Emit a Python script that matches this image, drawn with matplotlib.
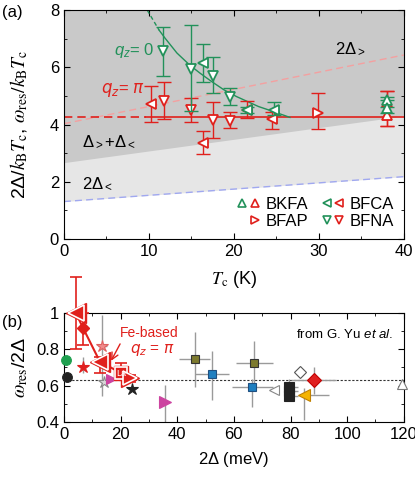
import numpy as np
import matplotlib.pyplot as plt
from matplotlib.lines import Line2D
from matplotlib.legend_handler import HandlerTuple

plt.rcParams['font.family'] = ['Liberation Sans', 'DejaVu Sans']
plt.rcParams['mathtext.fontset'] = 'custom'
plt.rcParams['mathtext.rm'] = 'Liberation Sans'
plt.rcParams['mathtext.it'] = 'Liberation Sans:italic'
plt.rcParams['mathtext.bf'] = 'Liberation Sans:bold'
plt.rcParams['xtick.direction'] = 'in'
plt.rcParams['ytick.direction'] = 'in'
plt.rcParams['font.size'] = 12

green = '#22915a'
red = '#e0201c'
gray = '#9a9a9a'

# ---- panel (a): guide lines vs Tc ----
tc_ends = [0, 40]
gap_big = [4.03, 6.43]      # 2Delta_>
gap_small = [1.31, 2.18]    # 2Delta_<
gap_mix = [2.67, 4.30]      # Delta_> + Delta_<
res_tc = [0, 9.7, 40]
res_val = [4.25, 4.25, 4.25]

# qz=0 guide curve
curve_tc = [9.8, 11.2, 11.9, 13.3, 14.8, 16.0, 17.4, 18.8, 20.3, 22.9, 24.7, 26.6]
curve_val = [8.0, 7.3, 7.02, 6.5, 6.08, 5.8, 5.5, 5.22, 4.98, 4.63, 4.45, 4.25]

# data points: Tc, value, lower end, upper end of error bar
gd_tc = [11.7, 14.9, 17.5, 19.5]
gd_val = [6.58, 5.94, 5.71, 4.95]
gd_lo = [5.70, 4.47, 5.09, 4.69]
gd_hi = [7.40, 7.48, 6.35, 5.27]

gl_tc = [16.4, 21.6, 24.7]
gl_val = [6.14, 4.51, 4.51]
gl_lo = [5.47, 4.40, 4.34]
gl_hi = [6.82, 4.62, 4.80]

gu_tc = [38.0, 38.0]
gu_val = [4.86, 4.57]
gu_lo = [4.62, 4.40]
gu_hi = [4.98, 4.85]

rd_tc = [11.8, 14.9, 17.6, 19.6]
rd_val = [4.84, 4.51, 4.16, 4.14]
rd_lo = [4.19, 4.10, 3.52, 3.87]
rd_hi = [5.47, 4.92, 4.80, 4.45]

rl_tc = [10.3, 16.4, 21.6, 24.5]
rl_val = [4.72, 3.37, 4.51, 4.18]
rl_lo = [4.10, 2.96, 4.22, 3.84]
rl_hi = [5.35, 3.79, 4.84, 4.45]

rr_tc = [29.9]
rr_val = [4.42]
rr_lo = [3.84]
rr_hi = [5.12]

ru_tc = [38.0, 38.0]
ru_val = [4.80, 4.34]
ru_lo = [3.95, 3.95]
ru_hi = [5.19, 5.19]

# ---- panel (b): omega_res / 2Delta vs 2Delta ----
fe_x = [4.2, 6.8, 12.7, 20.3, 23.5]
fe_y = [1.0, 0.916, 0.732, 0.668, 0.64]
fe_mark = ['<', 'D', '<', 's', '>']
fe_size = [12, 6, 12, 8, 10.5]
fe_lo = [0.80, 0.824, 0.67, 0.64, 0.62]
fe_hi = [1.20, 1.0, 0.76, 0.723, 0.66]

# other compounds (from G. Yu et al.)
yu_x = [0.7, 1.2, 6.6, 13.6, 14.1, 16.5, 24.2, 35.6, 46.2, 52.4, 67.1, 66.5,
        74.1, 79.5, 79.5, 79.5, 83.3, 88.2, 84.7, 119.5]
yu_y = [0.741, 0.649, 0.70, 0.82, 0.622, 0.635, 0.582, 0.512, 0.745, 0.662, 0.723, 0.594,
        0.576, 0.595, 0.570, 0.545, 0.674, 0.631, 0.549, 0.609]
yu_xlo = [0, 0, 1.0, 1.5, 0, 0, 0, 0, 5.5, 6.0, 6.5, 7.0, 0, 0, 0, 0, 0, 8.0, 0.5, 0]
yu_xhi = [0, 0, 1.0, 1.5, 0, 0, 0, 0, 5.3, 6.0, 6.8, 7.3, 0, 3.0, 3.0, 3.0, 0, 8.0, 9.0, 0]
yu_ylo = [0, 0, 0.03, 0.28, 0, 0, 0, 0.12, 0.15, 0.14, 0.12, 0.11, 0, 0.05, 0, 0, 0, 0.08, 0.14, 0]
yu_yhi = [0, 0, 0.06, 0.17, 0, 0, 0, 0.09, 0.15, 0.13, 0.12, 0.04, 0, 0.04, 0, 0, 0, 0.07, 0.04, 0]
yu_mark = ['o', 'o', '*', '*', '*', '>', '*', '>', 's', 's', 's', 's',
           '<', 's', 's', 's', 'D', 'D', '<', '^']
yu_fill = ['#1fa050', '#222222', '#e02020', '#f08a8a', '#d8d8d8', '#cc44a0', '#222222', '#cc44a0',
           '#7d7a2e', '#1f7fc0', '#7d7a2e', '#1f7fc0', 'white', '#222222', '#222222', '#222222',
           'white', '#e02020', '#f5b400', 'white']
yu_edge = ['#1fa050', '#222222', '#e02020', '#e06060', '#888888', '#cc44a0', '#222222', '#cc44a0',
           '#333333', '#1f4f80', '#333333', '#1f4f80', '#888888', '#222222', '#222222', '#222222',
           '#555555', '#c00000', '#c08000', '#777777']
yu_size = [7, 7, 9, 9, 9, 7, 9, 8, 6, 6, 6, 6, 7, 7, 7, 7, 6, 7, 8, 7]
universal = 0.63

fig = plt.figure(figsize=(4.15, 4.8), dpi=100)
ax = fig.add_axes([0.154, 0.502, 0.819, 0.477])
bx = fig.add_axes([0.154, 0.121, 0.819, 0.227])

# shading
top = [8, 8]
ax.fill_between(tc_ends, gap_small, top, color='#e6e6e6', lw=0, zorder=0)
ax.fill_between(tc_ends, gap_mix, top, color='#c9c9c9', lw=0, zorder=0)
ax.plot(tc_ends, gap_big, ls=(0, (5, 3)), color='#f4a0a0', lw=1)
ax.plot(tc_ends, gap_small, ls=(0, (5, 3)), color='#a0a8f0', lw=1)

ax.plot(res_tc[:2], res_val[:2], ls=(0, (5, 3)), color=red, lw=1.2)
ax.plot(res_tc[1:], res_val[1:], color=red, lw=1.2)
ax.plot(curve_tc[:2], curve_val[:2], ls=(0, (3, 2)), color=green, lw=1)
ax.plot(curve_tc[1:], curve_val[1:], color=green, lw=1)


def points(a, tc, val, lo, hi, m, c):
    err = [np.array(val) - np.array(lo), np.array(hi) - np.array(val)]
    a.errorbar(tc, val, yerr=err, fmt='none', ecolor=c, elinewidth=1, capsize=5, capthick=1)
    a.plot(tc, val, m, ms=7, mfc='white', mec=c, mew=1.3, ls='none')


points(ax, rd_tc, rd_val, rd_lo, rd_hi, 'v', red)
points(ax, rl_tc, rl_val, rl_lo, rl_hi, '<', red)
points(ax, rr_tc, rr_val, rr_lo, rr_hi, '>', red)
points(ax, ru_tc, ru_val, ru_lo, ru_hi, '^', red)
points(ax, gd_tc, gd_val, gd_lo, gd_hi, 'v', green)
points(ax, gl_tc, gl_val, gl_lo, gl_hi, '<', green)
points(ax, gu_tc, gu_val, gu_lo, gu_hi, '^', green)

ax.text(31.9, 6.67, '2Δ$_{>}$', fontsize=12, va='center')
ax.text(2.1, 3.4, 'Δ$_{>}$+Δ$_{<}$', fontsize=12, va='center')
ax.text(2.1, 1.95, '2Δ$_{<}$', fontsize=12, va='center')
ax.text(5.9, 6.6, '$q_z$= 0', color=green, fontsize=12, va='center')
ax.text(4.4, 5.2, r'$q_z$= $\pi$', color=red, fontsize=12, va='center',
        math_fontfamily='dejavusans')

# legend
def mk(m, c):
    return Line2D([], [], marker=m, ms=6, mfc='white', mec=c, mew=1.2, ls='none')

blank = Line2D([], [], ls='none')
handles = [(mk('^', green), mk('^', red)), (blank, mk('>', red)),
           (mk('<', green), mk('<', red)), (mk('v', green), mk('v', red))]
ax.legend(handles, ['BKFA', 'BFAP', 'BFCA', 'BFNA'], ncol=2, loc='lower right',
          handler_map={tuple: HandlerTuple(ndivide=None, pad=0.1)}, frameon=False,
          fontsize=12, handlelength=1.4, handletextpad=0.3, columnspacing=0.8,
          labelspacing=0.15, borderaxespad=0.2)

ax.set_xlim(0, 40)
ax.set_ylim(0, 8)
ax.set_xticks([0, 10, 20, 30, 40])
ax.set_xticks(np.arange(0, 41, 5), minor=True)
ax.set_yticks([0, 2, 4, 6, 8])
ax.set_yticks(np.arange(0, 9, 1), minor=True)
ax.tick_params(which='both', top=True, right=True, labelsize=12)
ax.tick_params(which='major', length=4)
ax.tick_params(which='minor', length=2.5)
ax.set_xlabel(r'$T_{\rm c}$ (K)', fontsize=13, labelpad=7, math_fontfamily='stix')
ax.set_ylabel(r'2Δ/$k_{\rm B}T_{\rm c}$, $\omega_{\rm res}/k_{\rm B}T_{\rm c}$', fontsize=14,
              math_fontfamily='stix')
ax.yaxis.set_label_coords(-0.1, 0.5)
fig.text(0.005, 0.975, '(a)', fontsize=12, va='center')

# ---- panel (b) ----
bx.axhline(universal, color='#333333', lw=0.8, ls=(0, (2, 1.5)), zorder=1)
for i in range(len(yu_x)):
    if yu_xlo[i] or yu_xhi[i] or yu_ylo[i] or yu_yhi[i]:
        bx.errorbar(yu_x[i], yu_y[i], xerr=[[yu_xlo[i]], [yu_xhi[i]]],
                    yerr=[[yu_ylo[i]], [yu_yhi[i]]], fmt='none', ecolor=gray, elinewidth=1,
                    zorder=2)
    bx.plot(yu_x[i], yu_y[i], yu_mark[i], ms=yu_size[i], mfc=yu_fill[i], mec=yu_edge[i],
            mew=0.8, zorder=3, clip_on=False)

fe_err = [np.array(fe_y) - np.array(fe_lo), np.array(fe_hi) - np.array(fe_y)]
bx.errorbar(fe_x, fe_y, yerr=fe_err, fmt='none', ecolor=red, elinewidth=1.2, capsize=4,
            capthick=1.2, zorder=4, clip_on=False)
bx.plot(fe_x, fe_y, color=red, lw=1.5, zorder=4, clip_on=False)
for i in range(len(fe_x)):
    if fe_mark[i] == 'D':
        bx.plot(fe_x[i], fe_y[i], 'D', ms=fe_size[i], mfc=red, mec=red, zorder=6)
        continue
    bx.plot(fe_x[i], fe_y[i], fe_mark[i], ms=fe_size[i] + 2.5, mfc=red, mec=red, mew=1,
            zorder=5, clip_on=False)
    bx.plot(fe_x[i], fe_y[i], fe_mark[i], ms=fe_size[i], mfc=red, mec='white', mew=1.2,
            zorder=6, clip_on=False)
bx.text(fe_x[3], fe_y[3], 'La', color='white', fontsize=6.5, ha='center', va='center', zorder=7)

bx.annotate('', xy=(16.2, 0.723), xytext=(20.3, 0.843),
            arrowprops=dict(arrowstyle='->', color=red, lw=1))
bx.text(19.8, 0.89, 'Fe-based', color=red, fontsize=10, va='center')
bx.text(23.3, 0.796, r'$q_z$ = $\pi$', color=red, fontsize=11, va='center',
        math_fontfamily='dejavusans')
bx.text(0.97, 0.8, 'from G. Yu $et$ $al.$', transform=bx.transAxes, fontsize=9.5,
        ha='right', va='center')

bx.set_xlim(0, 120)
bx.set_ylim(0.4, 1.0)
bx.set_xticks(np.arange(0, 121, 20))
bx.set_xticks(np.arange(0, 121, 10), minor=True)
bx.set_yticks([0.4, 0.6, 0.8, 1.0])
bx.set_yticklabels(['0.4', '0.6', '0.8', '1'])
bx.set_yticks(np.arange(0.4, 1.01, 0.1), minor=True)
bx.tick_params(which='both', top=True, right=True, labelsize=12)
bx.tick_params(which='major', length=4)
bx.tick_params(which='minor', length=2.5)
bx.set_xlabel('2$\\mathit{\\Delta}$ (meV)', fontsize=12, labelpad=6)
bx.set_ylabel(r'$\omega_{\rm res}$/2Δ', fontsize=14, math_fontfamily='stix')
bx.yaxis.set_label_coords(-0.1, 0.5)
fig.text(0.005, 0.329, '(b)', fontsize=12, va='center')

fig.savefig('out.png', dpi=100)
